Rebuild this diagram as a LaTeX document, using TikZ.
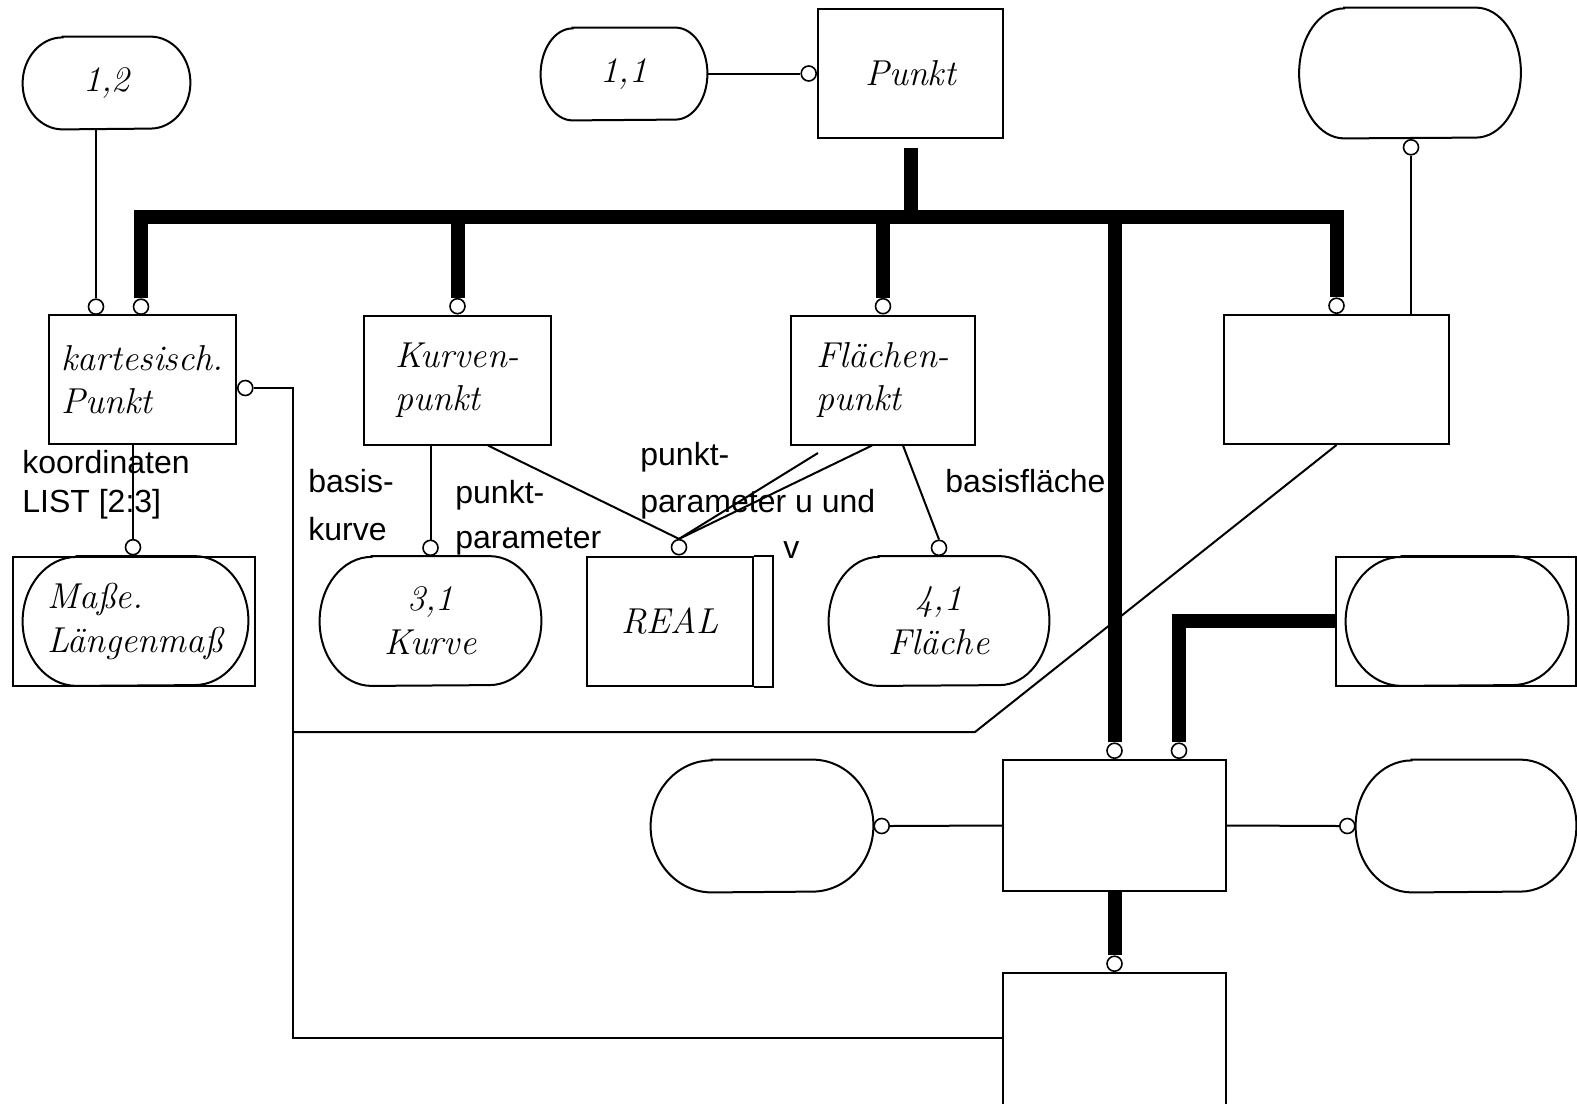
\documentclass[tikz,border=0pt]{standalone}
\usepackage{fontspec}
\newfontfamily\cadfont{Liberation Sans}

\tikzset{
  ent/.style={draw, rectangle, line width=1pt, inner sep=0pt, minimum height=64.5pt,
    align=left, font=\itshape\fontsize{18}{21.5}\selectfont},
  attr/.style={rectangle, inner sep=0pt, minimum height=64.5pt, align=center,
    font=\itshape\fontsize{18}{22}\selectfont},
  ring/.style={circle, draw, fill=white, line width=0.8pt, inner sep=0pt, minimum size=7.5pt},
  rel/.style={line width=1pt},
  isa/.style={line width=7pt},
  lbl/.style={anchor=base west, inner sep=0pt, font=\cadfont\fontsize{16}{20}\selectfont},
}

\begin{document}
\begin{tikzpicture}[x=0.5pt, y=-0.5pt]
\useasboundingbox (0,0) rectangle (1577,1103);

% entity boxes
\node[ent, minimum width=92.5pt] (punkt) at (910.5,73.5) {Punkt};
\node[ent, minimum width=93.5pt] (kart) at (142.5,379.5) {kartesisch.\\Punkt};
\node[ent, minimum width=93.5pt] (kurv) at (457.5,380) {Kurven-\\punkt};
\node[ent, minimum width=92pt] (flae) at (883,380) {Flächen-\\punkt};
\node[ent, minimum width=112.5pt] (rbox) at (1336.5,379.5) {};
\node[ent, minimum width=111.5pt, minimum height=65.5pt] (ebox) at (1114.5,825.5) {};
\node[ent, minimum width=111.5pt, minimum height=68.5pt] (fbox) at (1114.5,1041.5) {};
\node[ent, minimum width=83pt] (real) at (670,621) {REAL};
\draw[rel] (real.north east) -| ([xshift=9.5pt]real.south east) -- (real.south east);
\node[ent, minimum width=121pt] (mass) at (134,621) {};
\node[ent, minimum width=120pt] (rmid) at (1456,621) {};

% attributes, outlines follow
\node[attr, minimum width=83.5pt, minimum height=46pt] (e12) at (106.5,83) {1,2};
\node[attr, minimum width=83pt, minimum height=46pt] (e11) at (624,74) {1,1};
\node[attr, minimum width=110.5pt, minimum height=65pt] (etr) at (1410,73) {};
\node[attr, minimum width=112.5pt, align=left] (massin) at (135.5,621) {Maße.\\Längenmaß};
\node[attr, minimum width=110.5pt] (kurve) at (430.5,621) {3,1\\Kurve};
\node[attr, minimum width=110pt] (flch) at (939,621) {4,1\\Fläche};
\node[attr, minimum width=111pt] (rmidin) at (1457,621) {};
\node[attr, minimum width=111pt, minimum height=66pt] (eleft) at (762,826) {};
\node[attr, minimum width=110pt, minimum height=66pt] (eright) at (1466,826) {};

\foreach \nm/\ra/\rb in {e12/20/23, e11/16/23, etr/22.5/32.5, massin/27/32.25,
    kurve/26/32.25, flch/25/32.25, rmidin/28/32.25, eleft/30.5/33, eright/28/33}
  \draw[rel] ([xshift=\ra*1pt]\nm.north west) -- ([xshift=-\ra*1pt]\nm.north east)
    arc[start angle=90, end angle=-90, x radius=\ra*1pt, y radius=\rb*1pt]
    -- ([xshift=\ra*1pt]\nm.south west)
    arc[start angle=270, end angle=90, x radius=\ra*1pt, y radius=\rb*1pt] -- cycle;

% rings
\node[ring, anchor=south] (r12) at (96,315) {};
\node[ring, anchor=south] (rkart) at (141,315) {};
\node[ring, anchor=south] (rkurv) at (kurv.north) {};
\node[ring, anchor=south] (rflae) at (flae.north) {};
\node[ring, anchor=south] (rrbox) at (rbox.north) {};
\node[ring, anchor=north] (rtr) at (1411,139) {};
\node[ring, anchor=east] (r11) at (punkt.west) {};
\node[ring, anchor=west] (rkartE) at ([yshift=-4.25pt]kart.east) {};
\node[ring, anchor=south] (rmass) at ([xshift=-0.5pt]mass.north) {};
\node[ring, anchor=south] (rkurve) at (kurve.north) {};
\node[ring, anchor=south] (rreal) at ([xshift=4.5pt]real.north) {};
\node[ring, anchor=south] (rflch) at (flch.north) {};
\node[ring, anchor=south] (rE1) at (ebox.north) {};
\node[ring, anchor=south] (rE2) at ([xshift=32.25pt]ebox.north) {};
\node[ring, anchor=west] (rleft) at (eleft.east) {};
\node[ring, anchor=east] (rright) at (eright.west) {};
\node[ring, anchor=south] (rF) at (fbox.north) {};

\coordinate (bus) at (910.5,217);
\coordinate (pp) at (818,453);
\coordinate (kcorner) at (293,1038);
\coordinate (kmid) at (293,732);
\coordinate (kbend) at (975,732);

% thick connectors
\draw[isa] ([yshift=-4.5pt]punkt.south) -- (punkt.south |- bus);
\draw[isa] (rkart.north) |- (bus) -| (rrbox.north);
\foreach \r in {rkurv, rflae, rE1}
  \draw[isa] (\r.north |- bus) -- (\r.north);
\draw[isa] (rmid.west) -| (rE2.north);
\draw[isa] (ebox.south) -- (rF.north);

% thin connectors
\draw[rel] (r12 |- e12.south) -- (r12.north);
\draw[rel] (e11.east |- r11) -- (r11.west);
\draw[rel] (rtr.south) -- (rtr |- rbox.north);
\draw[rel] (rmass |- kart.south) -- (rmass.north);
\draw[rel] (rkurve |- kurv.south) -- (rkurve.north);
\draw[rel] ([xshift=15.25pt]kurv.south) -- (rreal.north);
\draw[rel] ([xshift=-5.5pt]flae.south) -- (rreal.north);
\draw[rel] (pp) -- (rreal.north);
\draw[rel] ([xshift=10pt]flae.south) -- (rflch.north);
\draw[rel] (rkartE.east) -| (kcorner) -- (kcorner -| fbox.west);
\draw[rel] (kmid) -- (kbend) -- (rbox.south);
\draw[rel] (rleft.east) -- (ebox.west);
\draw[rel] (ebox.east) -- (rright.west);

% role names
\node[lbl] (koo) at (22,473) {koordinaten};
\node[lbl] (lst) at (22,512) {LIST [2:3]};
\node[lbl] (bk1) at (308,492) {basis-};
\node[lbl] (bk2) at (308,540) {kurve};
\node[lbl] (pk1) at (455,503) {punkt-};
\node[lbl] (pk2) at (455,548) {parameter};
\node[lbl] (pf1) at (640,465) {punkt-};
\node[lbl] (pf2) at (640,512) {parameter u und};
\node[lbl] (pf3) at (783,558) {v};
\node[lbl] (bf) at (945,492) {basisfläche};
\end{tikzpicture}
\end{document}
